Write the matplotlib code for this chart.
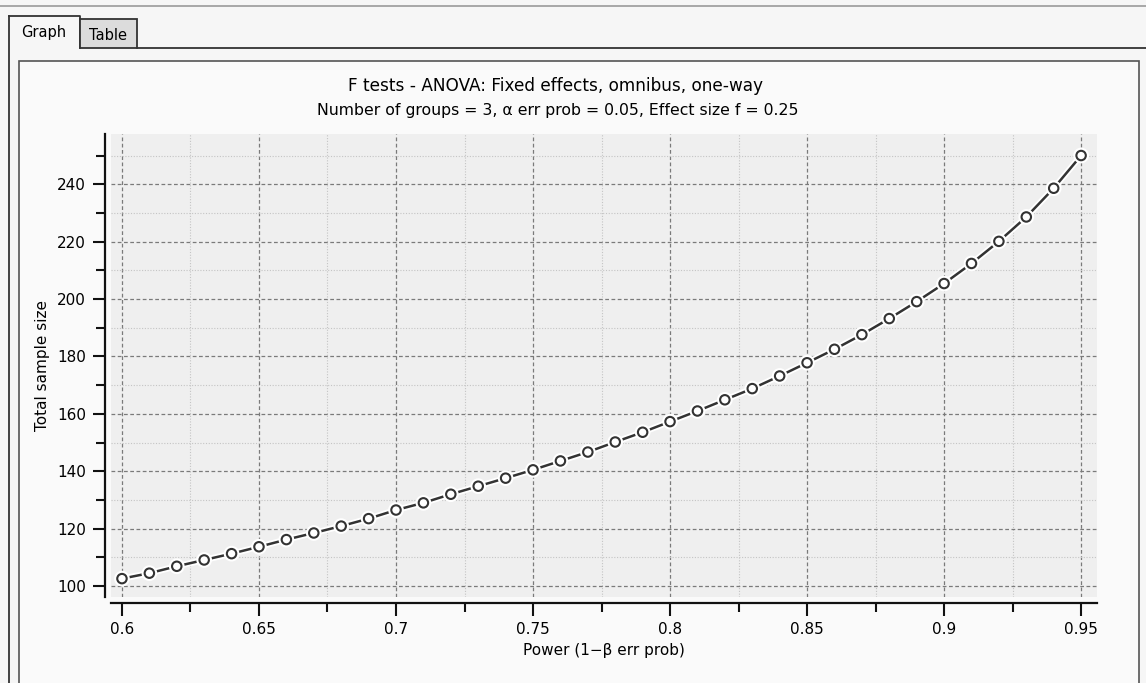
import numpy as np
import matplotlib.pyplot as plt
import matplotlib.patheffects as pe
from matplotlib.patches import Rectangle
from matplotlib.lines import Line2D
from matplotlib.ticker import MultipleLocator, FuncFormatter

power = [0.60, 0.61, 0.62, 0.63, 0.64, 0.65, 0.66, 0.67, 0.68, 0.69,
         0.70, 0.71, 0.72, 0.73, 0.74, 0.75, 0.76, 0.77, 0.78, 0.79,
         0.80, 0.81, 0.82, 0.83, 0.84, 0.85, 0.86, 0.87, 0.88, 0.89,
         0.90, 0.91, 0.92, 0.93, 0.94, 0.95]
sample_size = [102.6, 104.5, 106.9, 109.1, 111.3, 113.7, 116.2, 118.5, 120.9, 123.5,
               126.5, 129.0, 132.0, 134.8, 137.6, 140.5, 143.6, 146.7, 150.2, 153.6,
               157.3, 161.0, 164.9, 168.8, 173.2, 177.8, 182.5, 187.6, 193.2, 199.1,
               205.4, 212.4, 220.1, 228.6, 238.6, 250.0]

title = "F tests - ANOVA: Fixed effects, omnibus, one-way"
subtitle = "Number of groups = 3, \u03b1 err prob = 0.05, Effect size f = 0.25"
xlabel = "Power (1\u2212\u03b2 err prob)"
ylabel = "Total sample size"
tabs = ["Graph", "Table"]

W, H = 1146, 683


def fx(px):
    return px / W


def fy(py):
    return 1 - py / H


fig = plt.figure(figsize=(W / 100, H / 100), dpi=100)
fig.patch.set_facecolor('#f6f6f6')

# window chrome: top bar, tabs and panel (kept behind the axes)
fig.add_artist(Line2D([0, 1], [fy(6), fy(6)], color='#9a9a9a', lw=1.2, zorder=-2))
fig.add_artist(Rectangle((fx(19), fy(690)), fx(1139 - 19), fy(61) - fy(690),
                         facecolor='#fafafa', edgecolor='#555555', lw=1.2, zorder=-2))
fig.add_artist(Line2D([fx(137), 1], [fy(48), fy(48)], color='#333333', lw=1.3, zorder=-2))
fig.add_artist(Line2D([fx(9), fx(9)], [fy(16), 0], color='#333333', lw=1.3, zorder=-2))
fig.add_artist(Line2D([fx(9), fx(80), fx(80)], [fy(16), fy(16), fy(48)],
                      color='#333333', lw=1.3, zorder=-2))
fig.add_artist(Rectangle((fx(80), fy(48)), fx(57), fy(19) - fy(48),
                         facecolor='#dcdcdc', edgecolor='#333333', lw=1.3, zorder=-2))
fig.text(fx(44), fy(32), tabs[0], ha='center', va='center', fontsize=10.5)
fig.text(fx(108), fy(35), tabs[1], ha='center', va='center', fontsize=10.5)

# plot area
ax = fig.add_axes([fx(111), fy(597), fx(1097 - 111), fy(134) - fy(597)])
ax.set_facecolor('#efefef')
ax.set_xlim(0.596, 0.9558)
ax.set_ylim(96.2, 257.5)

for side in ['top', 'right']:
    ax.spines[side].set_visible(False)
for side in ['left', 'bottom']:
    ax.spines[side].set_position(('outward', 4))
    ax.spines[side].set_linewidth(1.6)
    ax.spines[side].set_color('#111111')

ax.xaxis.set_major_locator(MultipleLocator(0.05))
ax.xaxis.set_minor_locator(MultipleLocator(0.025))
ax.yaxis.set_major_locator(MultipleLocator(20))
ax.yaxis.set_minor_locator(MultipleLocator(10))
ax.xaxis.set_major_formatter(FuncFormatter(lambda v, p: ('%.2f' % v).rstrip('0').rstrip('.')))
ax.tick_params(which='major', length=9, width=1.5, labelsize=11, color='#111111', pad=5)
ax.tick_params(which='minor', length=6.5, width=1.5, color='#111111')

ax.grid(which='major', linestyle=(0, (3, 2)), color='#7a7a7a', lw=0.9)
ax.grid(which='minor', linestyle=(0, (1, 1.5)), color='#c4c4c4', lw=0.8)
ax.set_axisbelow(True)

ax.plot(power, sample_size, color='#333333', lw=1.8, marker='o', markersize=6.8,
        markerfacecolor='white', markeredgecolor='#333333', markeredgewidth=1.5,
        path_effects=[pe.withStroke(linewidth=4.5, foreground='white')],
        clip_on=False, zorder=3)

ax.set_xlabel(xlabel, fontsize=11, labelpad=4)
ax.set_ylabel(ylabel, fontsize=11, labelpad=5)

fig.text(fx(556), fy(86), title, ha='center', va='center', fontsize=12.2)
fig.text(fx(558), fy(110), subtitle, ha='center', va='center', fontsize=11.3)

fig.savefig('out.png', dpi=100, facecolor=fig.get_facecolor())
